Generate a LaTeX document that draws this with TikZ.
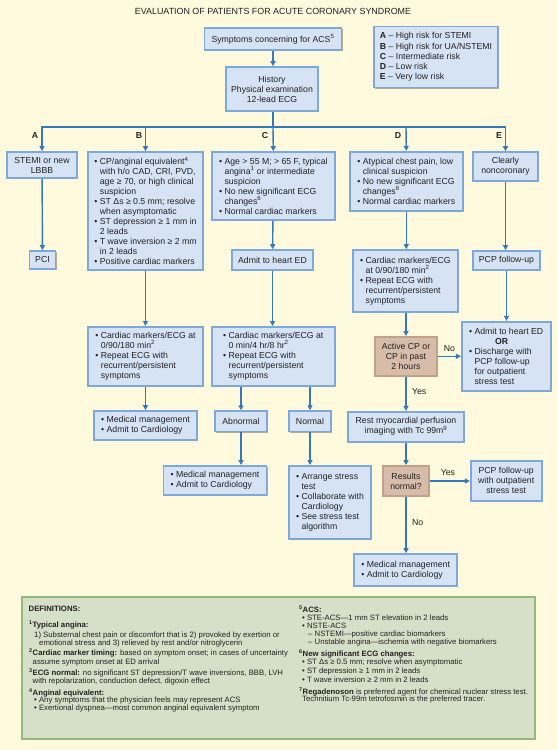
\documentclass[tikz,border=0pt]{standalone}
\usepackage{fontspec}
\setmainfont{Liberation Sans}
\usetikzlibrary{arrows.meta,shadows}
\definecolor{bg}{HTML}{FFF9DE}
\definecolor{bfill}{HTML}{D5E3F5}
\definecolor{bbord}{HTML}{7EA7DA}
\definecolor{dfill}{HTML}{D6BCA9}
\definecolor{dbord}{HTML}{C0A18B}
\definecolor{gfill}{HTML}{D6DFC8}
\definecolor{gbord}{HTML}{93BA7A}
\definecolor{arr}{HTML}{3478BE}
\definecolor{txt}{HTML}{222222}
\newcommand{\mf}{\fontsize{8.7}{10}\selectfont}
\newcommand{\df}{\fontsize{7.75}{8}\selectfont}
\newcommand{\ind}{\phantom{\textbullet\ }}
\newcommand{\bu}{\textbullet\ }
\begin{document}
\begin{tikzpicture}[x=1pt,y=-1pt,
 box/.style={draw=bbord, fill=bfill, line width=1.6pt, inner sep=0pt, font=\mf, text=txt,
   drop shadow={shadow xshift=1pt, shadow yshift=-1pt, opacity=0.3, fill=black}},
 cbox/.style={box, align=center},
 lbox/.style={box, align=left},
 dbox/.style={box, fill=dfill, draw=dbord, align=center},
 conn/.style={draw=arr, line width=1.4pt},
 arw/.style={conn, -{Triangle[length=5pt,width=5pt]}},
 lab/.style={font=\mf\bfseries, text=txt},
 yn/.style={font=\mf, text=txt},
 dt/.style={font=\df, text=txt, inner sep=0pt, anchor=west}]
\fill[bg] (0,0) rectangle (558,750);
\useasboundingbox (0,0) rectangle (558,750);

\node[font=\fontsize{8.9}{10}\selectfont, text=txt] (title) at (273,11) {EVALUATION OF PATIENTS FOR ACUTE CORONARY SYNDROME};

\node[cbox, minimum width=137pt, minimum height=22pt] (symp) at (273,39) {Symptoms concerning for ACS\textsuperscript{5}};
\node[cbox, minimum width=92pt, minimum height=44pt] (hist) at (272,89) {History\\Physical examination\\12-lead ECG};
\node[lbox, minimum width=124pt, minimum height=61pt, font=\fontsize{8.7}{10.25}\selectfont] (legend) at (436,57)
 {\textbf{A} -- High risk for STEMI\\\textbf{B} -- High risk for UA/NSTEMI\\\textbf{C} -- Intermediate risk\\\textbf{D} -- Low risk\\\textbf{E} -- Very low risk};

\coordinate (busA) at (42,127);
\coordinate (busB) at (145.5,127);
\coordinate (busC) at (273,127);
\coordinate (busD) at (406,127);
\coordinate (busE) at (506,127);

\node[lab] (la) at (35,136) {A};
\node[lab] (lb) at (139,136) {B};
\node[lab] (lc) at (265,136) {C};
\node[lab] (ld) at (398,136) {D};
\node[lab] (le) at (499,136) {E};

% column A
\node[cbox, minimum width=70pt, minimum height=26pt] (stemi) at (42,165) {STEMI or new\\LBBB};
\node[cbox, minimum width=26pt, minimum height=18pt] (pci) at (42.5,260) {PCI};

% column B
\node[lbox, minimum width=115pt, minimum height=118pt] (b1) at (145.5,211)
 {\bu CP/anginal equivalent\textsuperscript{4}\\\ind with h/o CAD, CRI, PVD,\\\ind age ≥ 70, or high clinical\\\ind suspicion\\\bu ST Δs ≥ 0.5 mm; resolve\\\ind when asymptomatic\\\bu ST depression ≥ 1 mm in\\\ind 2 leads\\\bu T wave inversion ≥ 2 mm\\\ind in 2 leads\\\bu Positive cardiac markers};
\node[lbox, minimum width=115pt, minimum height=59pt] (b2) at (145.5,356.3)
 {\bu Cardiac markers/ECG at\\\ind 0/90/180 min\textsuperscript{2}\\\bu Repeat ECG with\\\ind recurrent/persistent\\\ind symptoms};
\node[lbox, minimum width=103pt, minimum height=29pt] (b3) at (145.5,425.5)
 {\bu Medical management\\\bu Admit to Cardiology};

% column C
\node[lbox, minimum width=123pt, minimum height=68pt] (c1) at (273.3,186)
 {\bu Age > 55 M; > 65 F, typical\\\ind angina\textsuperscript{1} or intermediate\\\ind suspicion\\\bu No new significant ECG\\\ind changes\textsuperscript{6}\\\bu Normal cardiac markers};
\node[cbox, minimum width=81pt, minimum height=20pt] (c2) at (272.5,260) {Admit to heart ED};
\node[lbox, minimum width=123pt, minimum height=59pt] (c3) at (273.3,356.3)
 {\bu Cardiac markers/ECG at\\\ind 0 min/4 hr/8 hr\textsuperscript{2}\\\bu Repeat ECG with\\\ind recurrent/persistent\\\ind symptoms};
\node[cbox, minimum width=52pt, minimum height=20.5pt] (abn) at (241,421.3) {Abnormal};
\node[cbox, minimum width=42pt, minimum height=20.5pt] (nor) at (310,421.3) {Normal};
\node[lbox, minimum width=103pt, minimum height=29pt] (c4) at (215,480.3)
 {\bu Medical management\\\bu Admit to Cardiology};
\node[lbox, minimum width=82pt, minimum height=73pt] (c5) at (330,502.3)
 {\bu Arrange stress\\\ind test\\\bu Collaborate with\\\ind Cardiology\\\bu See stress test\\\ind algorithm};

% column D
\node[lbox, minimum width=113pt, minimum height=59pt] (d1) at (406.3,181.2)
 {\bu Atypical chest pain, low\\\ind clinical suspicion\\\bu No new significant ECG\\\ind changes\textsuperscript{6}\\\bu Normal cardiac markers};
\node[lbox, minimum width=105pt, minimum height=62pt] (d2) at (405.5,281)
 {\bu Cardiac markers/ECG\\\ind at 0/90/180 min\textsuperscript{2}\\\bu Repeat ECG with\\\ind recurrent/persistent\\\ind symptoms};
\node[dbox, minimum width=62pt, minimum height=39pt] (act) at (406,356.3) {Active CP or\\CP in past\\2 hours};
\node[cbox, minimum width=116pt, minimum height=30pt] (rest) at (406,426.7) {Rest myocardial perfusion\\imaging with Tc 99m\textsuperscript{9}};
\node[dbox, minimum width=46pt, minimum height=30pt] (res) at (406,481) {Results\\normal?};
\node[lbox, minimum width=103pt, minimum height=32pt] (d3) at (405.7,570)
 {\bu Medical management\\\bu Admit to Cardiology};

% column E
\node[cbox, minimum width=65pt, minimum height=29pt] (e1) at (505.5,166.5) {Clearly\\noncoronary};
\node[cbox, minimum width=67pt, minimum height=19pt] (e2) at (506.5,260.5) {PCP follow-up};
\node[lbox, minimum width=89pt, minimum height=69pt] (e3) at (506.2,356.2)
 {\bu Admit to heart ED\\\hspace*{26pt}\textbf{OR}\\\bu Discharge with\\\ind PCP follow-up\\\ind for outpatient\\\ind stress test};
\node[cbox, minimum width=71pt, minimum height=40pt] (e4) at (506.2,480.7) {PCP follow-up\\with outpatient\\stress test};

% connectors
\draw[arw] (symp.south) -- (symp.south |- hist.north);
\draw[conn] (hist.south -| busC) -- (busC);
\draw[arw] (busC) -| (stemi.north);
\draw[arw] (busC) -| (e1.north);
\draw[arw] (busB) -- (b1.north);
\draw[arw] (busC) -- (c1.north);
\draw[arw] (busD) -- (d1.north);
\draw[arw] (stemi) -- (pci);
\draw[arw] (b1) -- (b2);
\draw[arw] (b2) -- (b3);
\draw[arw] (c1) -- (c2);
\draw[arw] (c2.south) -- (c2.south |- c3.north);
\draw[arw] (abn.north |- c3.south) -- (abn.north);
\draw[arw] (nor.north |- c3.south) -- (nor.north);
\draw[arw] (abn.south) -- (abn.south |- c4.north);
\draw[arw] (nor.south) -- (nor.south |- c5.north);
\draw[arw] (d1.south) -- (d1.south |- d2.north);
\draw[arw] (act.north |- d2.south) -- (act.north);
\draw[arw] (act) -- (rest) node[yn, pos=0.45, right=2pt] (yes1) {Yes};
\draw[arw] (act.east) -- (act.east -| e3.west) node[yn, pos=0.5, above=1pt] (no1) {No};
\draw[arw] (rest) -- (res);
\draw[arw] (res.east) -- (res.east -| e4.west) node[yn, pos=0.45, above=1pt] (yes2) {Yes};
\draw[arw] (res.south) -- (res.south |- d3.north) node[yn, pos=0.45, right=2pt] (no2) {No};
\draw[arw] (e1.south) -- (e1.south |- e2.north);
\draw[arw] (e2.south) -- (e2.south |- e3.north);

% definitions
\node[draw=gbord, fill=gfill, line width=2.5pt, minimum width=513pt, minimum height=142pt,
  drop shadow={shadow xshift=1pt, shadow yshift=-1pt, opacity=0.3, fill=black}] (defs) at (278.5,668) {};
\node[dt] (t0) at (28.5,608.8) {\textbf{DEFINITIONS:}};
\node[dt] (t1) at (29,625) {\textbf{\textsuperscript{1}Typical angina:}};
\node[dt] (t2) at (34,635) {1) Substernal chest pain or discomfort that is 2) provoked by exertion or};
\node[dt] (t3) at (39,643) {emotional stress and 3) relieved by rest and/or nitroglycerin};
\node[dt] (t4) at (29,653) {\textbf{\textsuperscript{2}Cardiac marker timing:} based on symptom onset; in cases of uncertainty};
\node[dt] (t5) at (32.5,662) {assume symptom onset at ED arrival};
\node[dt] (t6) at (29,673) {\textbf{\textsuperscript{3}ECG normal:} no significant ST depression/T wave inversions, BBB, LVH};
\node[dt] (t7) at (32.5,681) {with repolarization, conduction defect, digoxin effect};
\node[dt] (t8) at (29,692.7) {\textbf{\textsuperscript{4}Anginal equivalent:}};
\node[dt] (t9) at (34,700.7) {\bu Any symptoms that the physician feels may represent ACS};
\node[dt] (t10) at (34,708.7) {\bu Exertional dyspnea—most common anginal equivalent symptom};

\node[dt] (r0) at (299,608.8) {\textbf{\textsuperscript{5}ACS:}};
\node[dt] (r1) at (302,618) {\bu STE-ACS—1 mm ST elevation in 2 leads};
\node[dt] (r2) at (302,626) {\bu NSTE-ACS};
\node[dt] (r3) at (308,634) {– NSTEMI—positive cardiac biomarkers};
\node[dt] (r4) at (308,642.3) {– Unstable angina—ischemia with negative biomarkers};
\node[dt] (r5) at (299,654) {\textbf{\textsuperscript{6}New significant ECG changes:}};
\node[dt] (r6) at (302,662.7) {\bu ST Δs ≥ 0.5 mm; resolve when asymptomatic};
\node[dt] (r7) at (302,671.7) {\bu ST depression ≥ 1 mm in 2 leads};
\node[dt] (r8) at (302,680) {\bu T wave inversion ≥ 2 mm in 2 leads};
\node[dt] (r9) at (299,691.7) {\textbf{\textsuperscript{7}Regadenoson} is preferred agent for chemical nuclear stress test.};
\node[dt] (r10) at (302,699.7) {Technitium Tc-99m tetrofosmin is the preferred tracer.};
\end{tikzpicture}
\end{document}
